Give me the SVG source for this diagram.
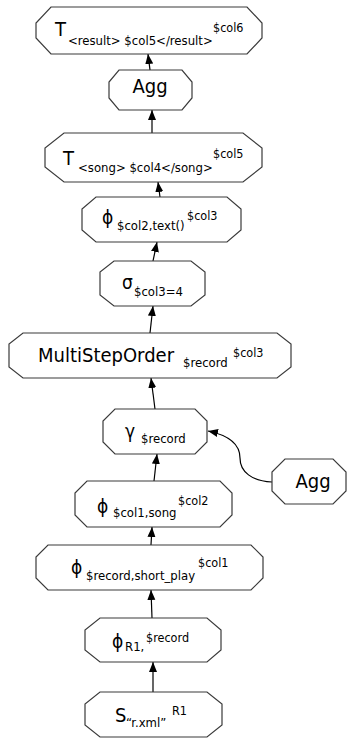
<svg xmlns="http://www.w3.org/2000/svg" width="347" height="741" viewBox="0 0 347 741">
  <style>
    .node polygon { fill: #ffffff; stroke: #3a3a3a; stroke-width: 1.2; }
    text { font-family: "DejaVu Sans Condensed", "DejaVu Sans", sans-serif; fill: #000000; }
    .big { font-size: 20px; }
    .gr { font-size: 19px; }
    .sm { font-size: 13px; }
    .sup { font-size: 12.5px; }
    .edges path { fill: none; stroke: #000000; stroke-width: 1.2; }
  </style>
  <defs>
    <marker id="arrow" markerUnits="userSpaceOnUse" markerWidth="11" markerHeight="9" refX="10" refY="4" orient="auto">
      <path d="M0,0 L10,4 L0,8 z" fill="#000000"/>
    </marker>
  </defs>

  <g class="edges">
    <path d="M153,692 L153,662" marker-end="url(#arrow)"/>
    <path d="M152,618 L151,590" marker-end="url(#arrow)"/>
    <path d="M151,545 L152,527" marker-end="url(#arrow)"/>
    <path d="M154,481 L157,454" marker-end="url(#arrow)"/>
    <path d="M155,409 L151,378" marker-end="url(#arrow)"/>
    <path d="M150,333 L153,306" marker-end="url(#arrow)"/>
    <path d="M153,261 L157,242" marker-end="url(#arrow)"/>
    <path d="M160,197 L158,182" marker-end="url(#arrow)"/>
    <path d="M152,133 L152,110" marker-end="url(#arrow)"/>
    <path d="M150,70 L148,54" marker-end="url(#arrow)"/>
    <path d="M272,482 C252,481 240,472 240,458 C240,446 232,436 208,431" marker-end="url(#arrow)"/>
  </g>

  <g id="n_tresult" class="node">
    <polygon points="51,7 247,7 262,23 262,38 247,54 51,54 36,38 36,23"/>
    <text class="big" x="55" y="36">T</text>
    <text class="sm" x="68" y="45">&lt;result&gt; $col5&lt;/result&gt;</text>
    <text class="sup" x="213" y="32">$col6</text>
  </g>

  <g id="n_agg_top" class="node">
    <polygon points="119,70 182,70 192,82 192,98 182,110 119,110 109,98 109,82"/>
    <text class="big" x="150" y="93" text-anchor="middle">Agg</text>
  </g>

  <g id="n_tsong" class="node">
    <polygon points="64,133 243,133 262,148 262,167 243,182 64,182 45,167 45,148"/>
    <text class="big" x="63" y="165">T</text>
    <text class="sm" x="78" y="172">&lt;song&gt; $col4&lt;/song&gt;</text>
    <text class="sup" x="213" y="158">$col5</text>
  </g>

  <g id="n_phi_text" class="node">
    <polygon points="96,197 227,197 241,209 241,230 227,242 96,242 82,230 82,209"/>
    <text class="gr" x="102" y="224">ϕ</text>
    <text class="sm" x="117" y="230">$col2,text()</text>
    <text class="sup" x="187" y="220">$col3</text>
  </g>

  <g id="n_sigma" class="node">
    <polygon points="114,261 191,261 205,272 205,295 191,306 114,306 100,295 100,272"/>
    <text class="gr" x="122" y="289">σ</text>
    <text class="sm" x="134" y="296">$col3=4</text>
  </g>

  <g id="n_mso" class="node">
    <polygon points="23,333 277,333 291,344 291,367 277,378 23,378 9,367 9,344"/>
    <text class="big" x="38" y="362">MultiStepOrder</text>
    <text class="sm" x="183" y="367">$record</text>
    <text class="sup" x="233" y="357">$col3</text>
  </g>

  <g id="n_gamma" class="node">
    <polygon points="115,409 195,409 207,421 207,442 195,454 115,454 103,442 103,421"/>
    <text class="gr" x="125" y="438">γ</text>
    <text class="sm" x="141" y="443">$record</text>
  </g>

  <g id="n_phi_song" class="node">
    <polygon points="87,481 220,481 232,493 232,515 220,527 87,527 75,515 75,493"/>
    <text class="gr" x="97" y="513">ϕ</text>
    <text class="sm" x="113" y="517">$col1,song</text>
    <text class="sup" x="178" y="505">$col2</text>
  </g>

  <g id="n_phi_play" class="node">
    <polygon points="48,545 251,545 263,557 263,578 251,590 48,590 36,578 36,557"/>
    <text class="gr" x="71" y="574">ϕ</text>
    <text class="sm" x="86" y="580">$record,short_play</text>
    <text class="sup" x="198" y="567">$col1</text>
  </g>

  <g id="n_phi_r1" class="node">
    <polygon points="100,618 207,618 221,630 221,650 207,662 100,662 85,650 85,630"/>
    <text class="gr" x="112" y="648">ϕ</text>
    <text class="sm" x="125" y="651">R1,</text>
    <text class="sup" x="146" y="642">$record</text>
  </g>

  <g id="n_scan" class="node">
    <polygon points="100,692 207,692 222,704 222,725 207,737 100,737 85,725 85,704"/>
    <text class="big" x="115" y="722">S</text>
    <text class="sm" x="126" y="727">“r.xml”</text>
    <text class="sup" x="172" y="715">R1</text>
  </g>

  <g id="n_agg_side" class="node">
    <polygon points="285,459 333,459 346,472 346,491 333,504 285,504 272,491 272,472"/>
    <text class="big" x="313" y="488" text-anchor="middle">Agg</text>
  </g>
</svg>
